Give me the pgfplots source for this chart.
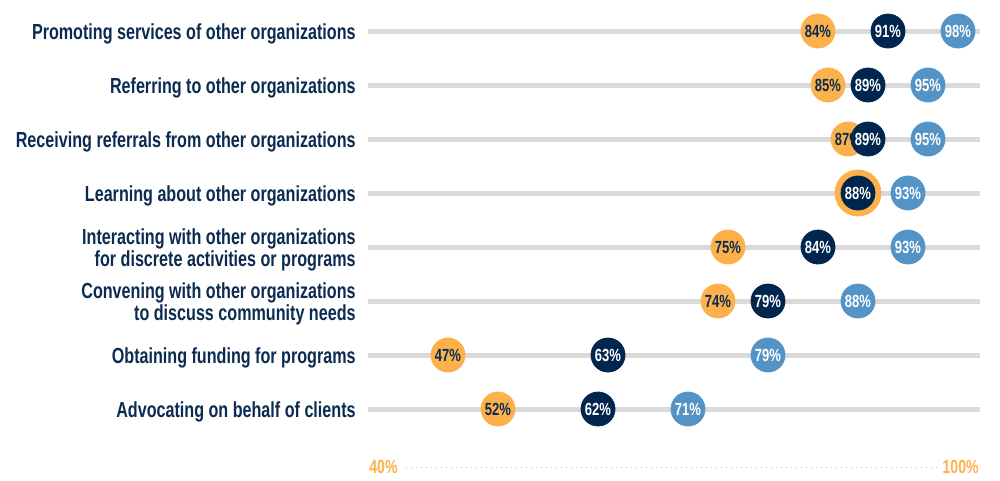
\documentclass[border=0pt]{standalone}
\usepackage{fontspec}
\newfontfamily\cond{Liberation Sans}[FakeStretch=0.74]
\usepackage{pgfplots}
\pgfplotsset{compat=1.18}
\definecolor{cOrange}{HTML}{FCB14A}
\definecolor{cNavy}{HTML}{00264D}
\definecolor{cBlue}{HTML}{5493C6}
\definecolor{cGray}{HTML}{DADADA}
\definecolor{cText}{HTML}{0B2B50}

\pgfplotsset{
  dot/.style={only marks, mark=*, mark size=8.5pt,
    point meta=x,
    nodes near coords={\pgfmathprintnumber[assume math mode=true]{\pgfplotspointmeta}\%},
    every node near coord/.append style={anchor=center, inner sep=0pt,
      font=\cond\bfseries\fontsize{8.8}{8.8}\selectfont}},
}

\begin{document}
\begin{tikzpicture}
\begin{axis}[
  scale only axis, width=500pt, height=240pt,
  xmin=2.2, xmax=102.2, ymin=0.4259, ymax=9.3148, y dir=reverse,
  hide axis, clip=false,
]
\path (rel axis cs:0,0) (rel axis cs:1,1);

% gray guide lines
\addplot[cGray, line width=2.5pt] table {
x y
39 1
100.2 1

39 2
100.2 2

39 3
100.2 3

39 4
100.2 4

39 5
100.2 5

39 6
100.2 6

39 7
100.2 7

39 8
100.2 8
};

% orange series
\addplot[dot, color=cOrange,
  every node near coord/.append style={text=cText}] table {
x y
84 1
85 2
87 3
88 4
75 5
74 6
47 7
52 8
};
% ring where orange and navy coincide
\addplot[only marks, mark=*, mark size=11.5pt, color=cOrange] table {
x y
88 4
};
% navy series
\addplot[dot, color=cNavy,
  every node near coord/.append style={text=white}] table {
x y
91 1
89 2
89 3
88 4
84 5
79 6
63 7
62 8
};
% light blue series
\addplot[dot, color=cBlue,
  every node near coord/.append style={text=white}] table {
x y
98 1
95 2
95 3
93 4
93 5
88 6
79 7
71 8
};

\begin{scope}[every node/.style={anchor=east, align=right, text=cText, inner sep=0pt,
    yshift=-1.5pt, font=\cond\bfseries\fontsize{10.9}{11.2}\selectfont}]
\node at (axis cs:37.8,1) {Promoting services of other organizations};
\node at (axis cs:37.8,2) {Referring to other organizations};
\node at (axis cs:37.8,3) {Receiving referrals from other organizations};
\node at (axis cs:37.8,4) {Learning about other organizations};
\node at (axis cs:37.8,5) {Interacting with other organizations\\for discrete activities or programs};
\node at (axis cs:37.8,6) {Convening with other organizations\\to discuss community needs};
\node at (axis cs:37.8,7) {Obtaining funding for programs};
\node at (axis cs:37.8,8) {Advocating on behalf of clients};
\end{scope}

% scale indicator
\draw[cOrange, dotted, line width=0.5pt] (axis cs:42.8,9.074) -- (axis cs:95.9,9.074);
\node[anchor=west, inner sep=0pt, text=cOrange, font=\cond\bfseries\fontsize{9.5}{9.5}\selectfont] at (axis cs:39.1,9.074) {40\%};
\node[anchor=east, inner sep=0pt, text=cOrange, font=\cond\bfseries\fontsize{9.5}{9.5}\selectfont] at (axis cs:100.1,9.074) {100\%};
\end{axis}
\end{tikzpicture}
\end{document}
